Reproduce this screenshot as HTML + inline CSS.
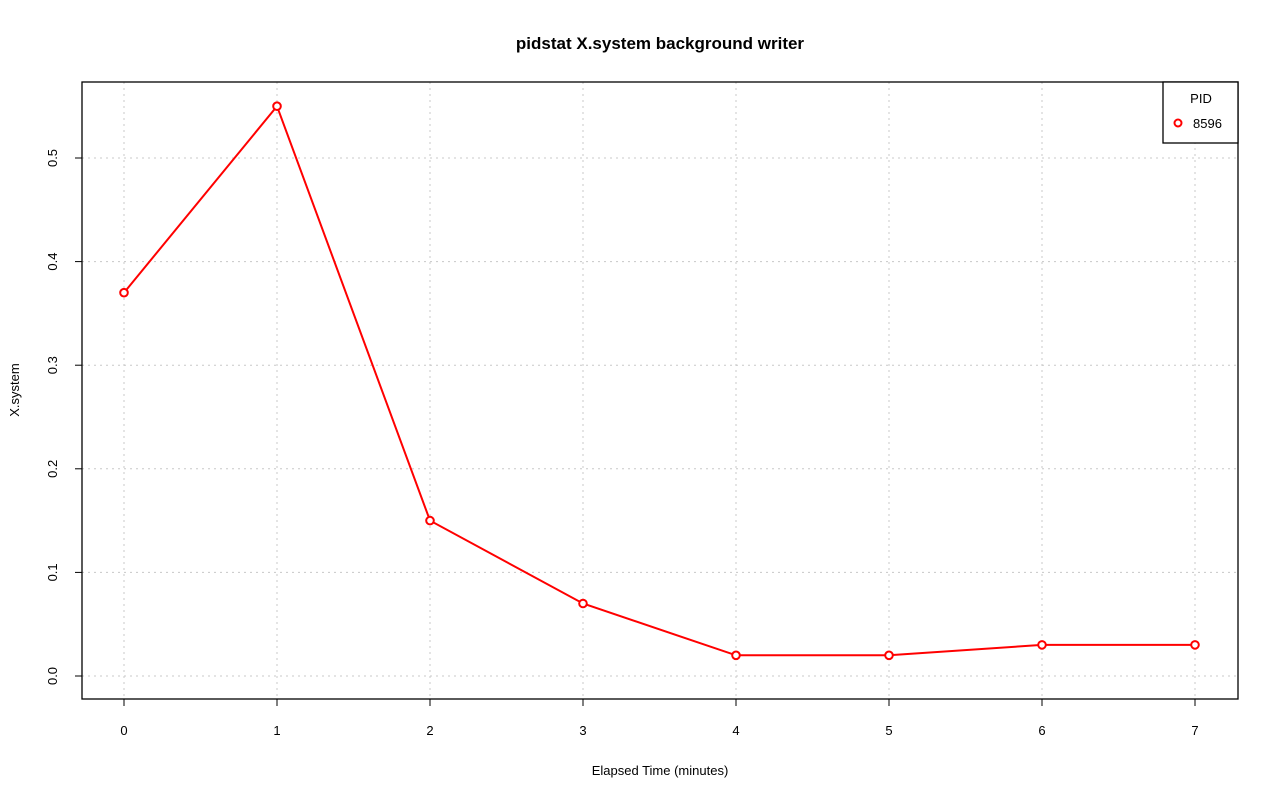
<!DOCTYPE html>
<html><head><meta charset="utf-8"><style>body{margin:0;background:#fff}svg{display:block}</style></head><body>
<svg width="1280" height="801" xmlns="http://www.w3.org/2000/svg" font-family="Liberation Sans, sans-serif">
<rect width="1280" height="801" fill="#fff"/>
<text x="660" y="49" text-anchor="middle" font-size="17" font-weight="bold">pidstat X.system background writer</text>
<g stroke="#c8c8c8" stroke-dasharray="2,4" stroke-width="1">
<line x1="124" y1="82" x2="124" y2="699"/><line x1="277" y1="82" x2="277" y2="699"/><line x1="430" y1="82" x2="430" y2="699"/><line x1="583" y1="82" x2="583" y2="699"/><line x1="736" y1="82" x2="736" y2="699"/><line x1="889" y1="82" x2="889" y2="699"/><line x1="1042" y1="82" x2="1042" y2="699"/><line x1="1195" y1="82" x2="1195" y2="699"/>
<line x1="82" y1="676" x2="1238" y2="676"/><line x1="82" y1="572.4" x2="1238" y2="572.4"/><line x1="82" y1="468.8" x2="1238" y2="468.8"/><line x1="82" y1="365.2" x2="1238" y2="365.2"/><line x1="82" y1="261.6" x2="1238" y2="261.6"/><line x1="82" y1="158" x2="1238" y2="158"/>
</g>
<rect x="82" y="82" width="1156" height="617" fill="none" stroke="#000" stroke-width="1.3"/>
<g stroke="#000" stroke-width="1">
<line x1="124" y1="699" x2="124" y2="706"/><line x1="277" y1="699" x2="277" y2="706"/><line x1="430" y1="699" x2="430" y2="706"/><line x1="583" y1="699" x2="583" y2="706"/><line x1="736" y1="699" x2="736" y2="706"/><line x1="889" y1="699" x2="889" y2="706"/><line x1="1042" y1="699" x2="1042" y2="706"/><line x1="1195" y1="699" x2="1195" y2="706"/>
<line x1="82" y1="676" x2="75" y2="676"/><line x1="82" y1="572.4" x2="75" y2="572.4"/><line x1="82" y1="468.8" x2="75" y2="468.8"/><line x1="82" y1="365.2" x2="75" y2="365.2"/><line x1="82" y1="261.6" x2="75" y2="261.6"/><line x1="82" y1="158" x2="75" y2="158"/>
</g>
<g font-size="13" text-anchor="middle">
<text x="124" y="735">0</text><text x="277" y="735">1</text><text x="430" y="735">2</text><text x="583" y="735">3</text><text x="736" y="735">4</text><text x="889" y="735">5</text><text x="1042" y="735">6</text><text x="1195" y="735">7</text>
<text transform="translate(57,676) rotate(-90)">0.0</text><text transform="translate(57,572.4) rotate(-90)">0.1</text><text transform="translate(57,468.8) rotate(-90)">0.2</text><text transform="translate(57,365.2) rotate(-90)">0.3</text><text transform="translate(57,261.6) rotate(-90)">0.4</text><text transform="translate(57,158) rotate(-90)">0.5</text>
<text x="660" y="775">Elapsed Time (minutes)</text>
<text transform="translate(19,390) rotate(-90)">X.system</text>
</g>
<polyline fill="none" stroke="#f00" stroke-width="2" points="124,292.7 277,106.2 430,520.6 583,603.5 736,655.3 889,655.3 1042,644.9 1195,644.9"/>
<g fill="#fff" stroke="#f00" stroke-width="2">
<circle cx="124" cy="292.7" r="3.8"/><circle cx="277" cy="106.2" r="3.8"/><circle cx="430" cy="520.6" r="3.8"/><circle cx="583" cy="603.5" r="3.8"/><circle cx="736" cy="655.3" r="3.8"/><circle cx="889" cy="655.3" r="3.8"/><circle cx="1042" cy="644.9" r="3.8"/><circle cx="1195" cy="644.9" r="3.8"/>
</g>
<rect x="1163" y="82" width="75" height="61" fill="#fff" stroke="#000" stroke-width="1.3"/>
<text x="1201" y="103" text-anchor="middle" font-size="13">PID</text>
<circle cx="1178" cy="123" r="3.5" fill="#fff" stroke="#f00" stroke-width="2"/>
<text x="1193" y="128" font-size="13">8596</text>
</svg>
</body></html>
